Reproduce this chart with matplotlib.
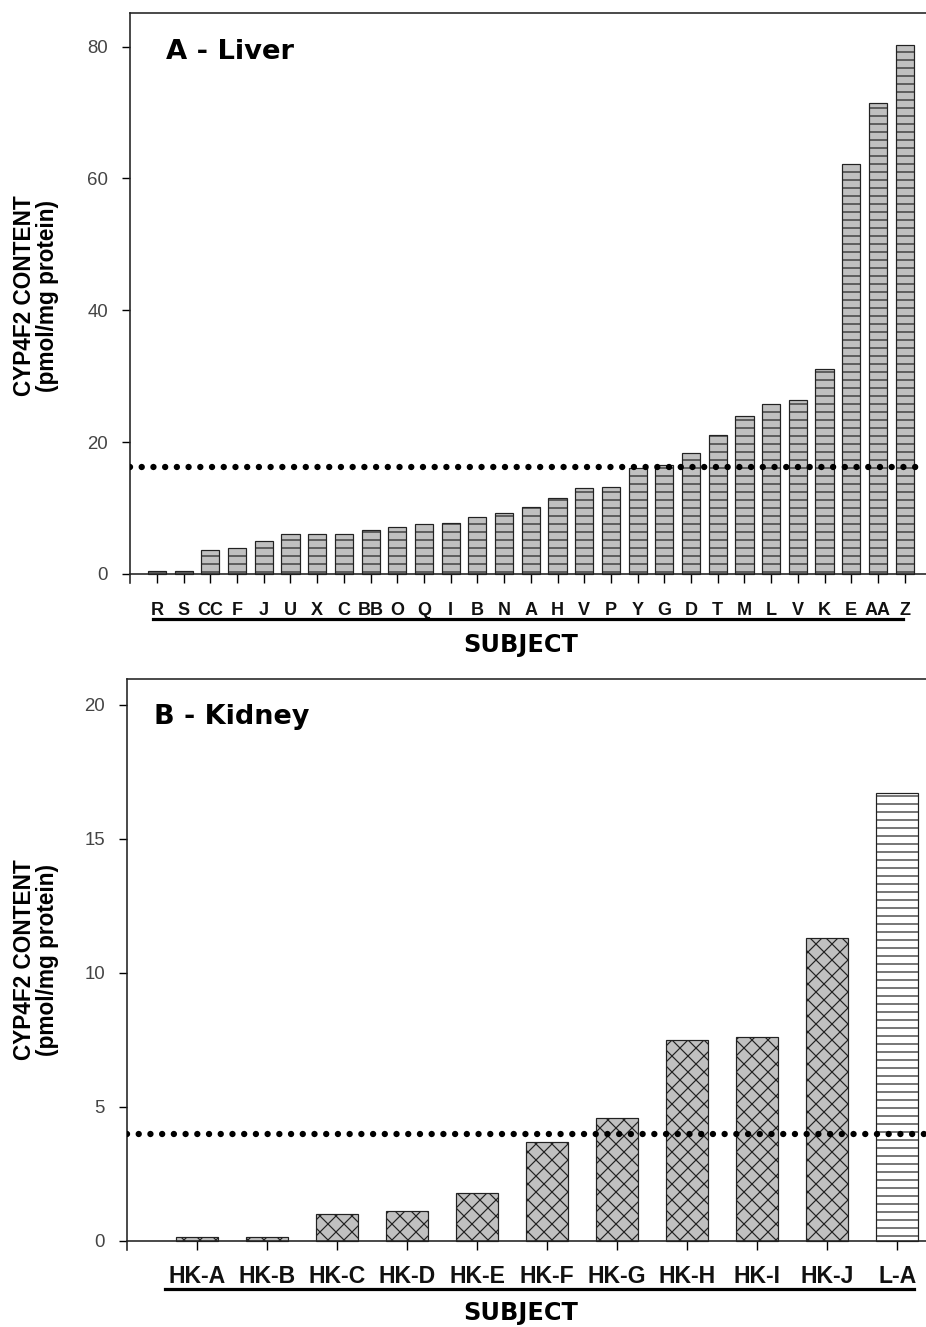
import numpy as np
import matplotlib
matplotlib.use('Agg')
import matplotlib.pyplot as plt
from matplotlib.transforms import blended_transform_factory

DPI = 144
W, H = 926, 1327
FILL = '#c0c0c0'

# panel A - liver
liver_subjects = ['R', 'S', 'CC', 'F', 'J', 'U', 'X', 'C', 'BB', 'O', 'Q', 'I', 'B', 'N',
                  'A', 'H', 'V', 'P', 'Y', 'G', 'D', 'T', 'M', 'L', 'V', 'K', 'E', 'AA', 'Z']
liver_content = [0.4, 0.4, 3.7, 3.9, 5.0, 6.1, 6.1, 6.1, 6.7, 7.2, 7.6, 7.8, 8.6, 9.2,
                 10.1, 11.5, 13.0, 13.2, 16.1, 16.5, 18.3, 21.1, 24.0, 25.8, 26.4, 31.1,
                 62.2, 71.5, 80.3]
liver_cutoff = 16.3
liver_yticks = [0, 20, 40, 60, 80]

# panel B - kidney
kidney_subjects = ['HK-A', 'HK-B', 'HK-C', 'HK-D', 'HK-E', 'HK-F', 'HK-G', 'HK-H',
                   'HK-I', 'HK-J', 'L-A']
kidney_content = [0.15, 0.15, 1.0, 1.1, 1.8, 3.7, 4.6, 7.5, 7.6, 11.3, 16.7]
kidney_cutoff = 4.0
kidney_yticks = [0, 5, 10, 15, 20]

plt.rcParams['hatch.linewidth'] = 0.6
plt.rcParams['font.family'] = ['Liberation Sans', 'DejaVu Sans']


def px(x, y):
    # pixel position -> figure fraction
    return x / W, 1 - y / H


def style_axes(ax, ylim, xlim, yticks, labels, tick_size, pad_x):
    ax.set_ylim(*ylim)
    ax.set_xlim(*xlim)
    ax.spines['right'].set_visible(False)
    ax.spines['bottom'].set_position(('data', 0))
    for s in ['left', 'top', 'bottom']:
        ax.spines[s].set_linewidth(0.8)
        ax.spines[s].set_color('#222222')
    ax.tick_params(axis='y', direction='out', length=4, width=0.7, pad=7,
                   labelsize=9.3, labelcolor='#444444')
    ax.tick_params(axis='x', direction='out', length=4.5, width=0.7, pad=pad_x)
    ax.set_yticks(yticks)
    ax.set_xticks(np.arange(len(labels)))
    ax.set_xticklabels(labels)
    for lab in ax.get_xticklabels():
        lab.set_fontsize(tick_size)
        lab.set_fontweight('bold')
        lab.set_color('#111111')


def dotted(ax, y):
    ax.axhline(y, color='black', lw=3.2, linestyle=(0, (0.001, 1.83)),
               dash_capstyle='round', zorder=3)


fig = plt.figure(figsize=(W / DPI, H / DPI), dpi=DPI)

# ---- A - Liver ----
l, t = px(130, 13)
_, b = px(0, 583)
ax1 = fig.add_axes([l, b, 1 - l, t - b])
x1 = np.arange(len(liver_subjects))
ax1.bar(x1, liver_content, width=0.68, color=FILL, edgecolor='#222222',
        linewidth=0.6, hatch='---', zorder=2)
dotted(ax1, liver_cutoff)
style_axes(ax1, (-1.37, 85.1), (-1.01, 28.8), liver_yticks, liver_subjects, 9, 9.5)
tr1 = blended_transform_factory(ax1.transData, ax1.transAxes)
ax1.plot([-0.15, 27.95], [-0.063, -0.063], color='black', lw=1.6,
         transform=tr1, clip_on=False)
ax1.text(*px(166, 52), 'A - Liver', transform=fig.transFigure, ha='left', va='center',
         fontsize=13.7, fontweight='bold', family='DejaVu Sans')

# ---- B - Kidney ----
l, t = px(127, 679)
_, b = px(0, 1250)
ax2 = fig.add_axes([l, b, 1 - l, t - b])
x2 = np.arange(len(kidney_subjects))
hk = [s.startswith('HK') for s in kidney_subjects]
for xi, v, is_hk in zip(x2, kidney_content, hk):
    if is_hk:
        ax2.bar(xi, v, width=0.6, color=FILL, edgecolor='#222222', linewidth=0.6,
                hatch='xxx', zorder=2)
    else:
        ax2.bar(xi, v, width=0.6, color='white', edgecolor='#222222', linewidth=0.6,
                hatch='---', zorder=2)
dotted(ax2, kidney_cutoff)
style_axes(ax2, (-0.34, 20.97), (-1.0, 10.41), kidney_yticks, kidney_subjects, 11.5, 7.5)
tr2 = blended_transform_factory(ax2.transData, ax2.transAxes)
ax2.plot([-0.46, 10.24], [-0.068, -0.068], color='black', lw=1.6,
         transform=tr2, clip_on=False)
ax2.text(*px(154, 717), 'B - Kidney', transform=fig.transFigure, ha='left', va='center',
         fontsize=13.5, fontweight='bold', family='DejaVu Sans')

# shared-style labels
for ycen, ysub in [(296, 645), (960, 1313)]:
    fig.text(*px(36, ycen), 'CYP4F2 CONTENT\n(pmol/mg protein)', rotation=90,
             ha='center', va='center', multialignment='center',
             fontsize=11.3, fontweight='bold', linespacing=1.0)
    fig.text(*px(521, ysub), 'SUBJECT', ha='center', va='center',
             fontsize=12, fontweight='bold', family='DejaVu Sans')

fig.savefig('out.png', dpi=DPI)
